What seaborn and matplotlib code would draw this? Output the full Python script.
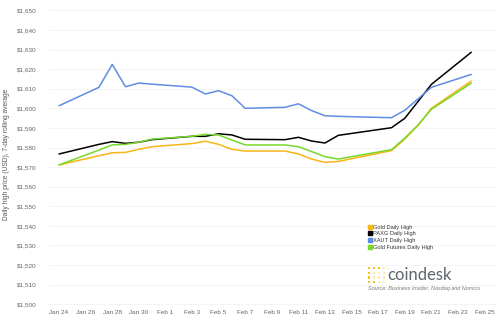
import matplotlib
matplotlib.use("Agg")
import matplotlib.pyplot as plt
import matplotlib.dates as mdates
from matplotlib.lines import Line2D
from matplotlib.patches import Rectangle
import pandas as pd
import seaborn as sns

# Trading days (weekends and Presidents' Day skipped)
dates = ["2020-01-24", "2020-01-27", "2020-01-28", "2020-01-29", "2020-01-30",
         "2020-01-31", "2020-02-03", "2020-02-04", "2020-02-05", "2020-02-06",
         "2020-02-07", "2020-02-10", "2020-02-11", "2020-02-12", "2020-02-13",
         "2020-02-14", "2020-02-18", "2020-02-19", "2020-02-20", "2020-02-21",
         "2020-02-24"]

gold = [1571.1, 1575.8, 1577.3, 1577.5, 1579.1, 1580.4, 1582.0, 1583.2, 1581.6,
        1579.1, 1578.2, 1578.2, 1576.7, 1574.1, 1572.4, 1572.9, 1578.4, 1584.3,
        1591.3, 1600.0, 1613.9]
paxg = [1576.7, 1581.6, 1583.0, 1582.1, 1582.7, 1584.0, 1585.7, 1585.7, 1587.0,
        1586.4, 1584.2, 1584.0, 1585.2, 1583.3, 1582.3, 1586.2, 1590.1, 1594.9,
        1603.5, 1612.2, 1628.6]
xaut = [1601.3, 1610.7, 1622.4, 1611.0, 1612.9, 1612.3, 1610.8, 1607.3, 1609.0,
        1606.4, 1600.0, 1600.5, 1602.3, 1598.8, 1596.2, 1595.9, 1595.2, 1599.0,
        1604.8, 1610.7, 1617.3]
futures = [1571.1, 1578.7, 1581.3, 1581.6, 1582.7, 1584.3, 1585.7, 1586.7, 1586.4,
           1583.8, 1581.3, 1581.3, 1580.4, 1577.9, 1575.3, 1574.1, 1578.9, 1584.8,
           1591.5, 1599.5, 1612.8]

series_names = ["Gold Daily High", "PAXG Daily High", "XAUT Daily High",
                "Gold Futures Daily High"]
series_values = [gold, paxg, xaut, futures]
colors = ["#F9B417", "#000000", "#5F8DE3", "#78D92A"]

y_ticks = list(range(1500, 1651, 10))

frames = []
for name, vals in zip(series_names, series_values):
    frames.append(pd.DataFrame({"date": pd.to_datetime(dates), "price": vals,
                                "series": name}))
df = pd.concat(frames, ignore_index=True)

sns.set_theme(style="white")
plt.rcParams["font.family"] = ["Liberation Sans", "DejaVu Sans"]

fig = plt.figure(figsize=(5.0, 3.23), dpi=100)
ax = fig.add_axes([0.096, 0.0458, 0.896, 0.9344])

sns.lineplot(data=df, x="date", y="price", hue="series",
             hue_order=series_names, palette=dict(zip(series_names, colors)),
             linewidth=1.1, legend=False, ax=ax)

start = mdates.date2num(pd.Timestamp("2020-01-24"))
ax.set_xlim(start - 0.83, start + 32.86)
ax.set_ylim(1498, 1652)

xt = pd.date_range("2020-01-24", "2020-02-25", freq="2D")
ax.set_xticks(mdates.date2num(xt))
ax.set_xticklabels([f"{d:%b} {d.day}" for d in xt])
ax.set_yticks(y_ticks)
ax.set_yticklabels([f"${v:,}" for v in y_ticks])

ax.tick_params(axis="both", labelsize=4.6, colors="#666666", length=0)
ax.tick_params(axis="y", pad=8)
ax.tick_params(axis="x", pad=1.5)
ax.grid(axis="y", color="#f2f2f2", linewidth=0.6)
ax.grid(axis="x", visible=False)
for s in ax.spines.values():
    s.set_visible(False)

ax.set_xlabel("")
ax.set_ylabel("Daily high price (USD), 7-day rolling average",
              fontsize=4.8, color="#555555")
ax.yaxis.set_label_coords(-0.085, 0.51)

handles = [Line2D([], [], marker="s", linestyle="none", color=c, markersize=3.4)
           for c in colors]
fig.legend(handles, series_names, loc="upper left",
           bbox_to_anchor=(0.730, 0.313), bbox_transform=fig.transFigure,
           frameon=False, fontsize=4.1, handletextpad=0.15, labelspacing=0.3,
           borderpad=0, handlelength=0.8, labelcolor="#333333")

# coindesk wordmark with its dotted square
W, H = 500.0, 323.0
dot = 2.4
grid_x = [369, 374, 379, 384]
grid_y = [268, 273, 277.5, 282]
solid = {(0, 0), (1, 0), (2, 0), (0, 1), (0, 2), (0, 3), (1, 3)}
for i, gx in enumerate(grid_x):
    for j, gy in enumerate(grid_y):
        c = "#F5C518" if (i, j) in solid else "#FBEBB0"
        fig.add_artist(Rectangle(((gx - dot / 2) / W, 1 - (gy + dot / 2) / H),
                                 dot / W, dot / H, transform=fig.transFigure,
                                 color=c, lw=0))
fig.text(387 / W, 1 - 275 / H, "coindesk", fontsize=12, color="#5f646b",
         family=["Lato", "DejaVu Sans"], va="center", ha="left")
fig.text(368 / W, 1 - 288.5 / H, "Source: Business Insider, Nasdaq and Nomics",
         fontsize=4.0, style="italic", color="#777777", va="center", ha="left")

fig.savefig("out.png", dpi=100)
